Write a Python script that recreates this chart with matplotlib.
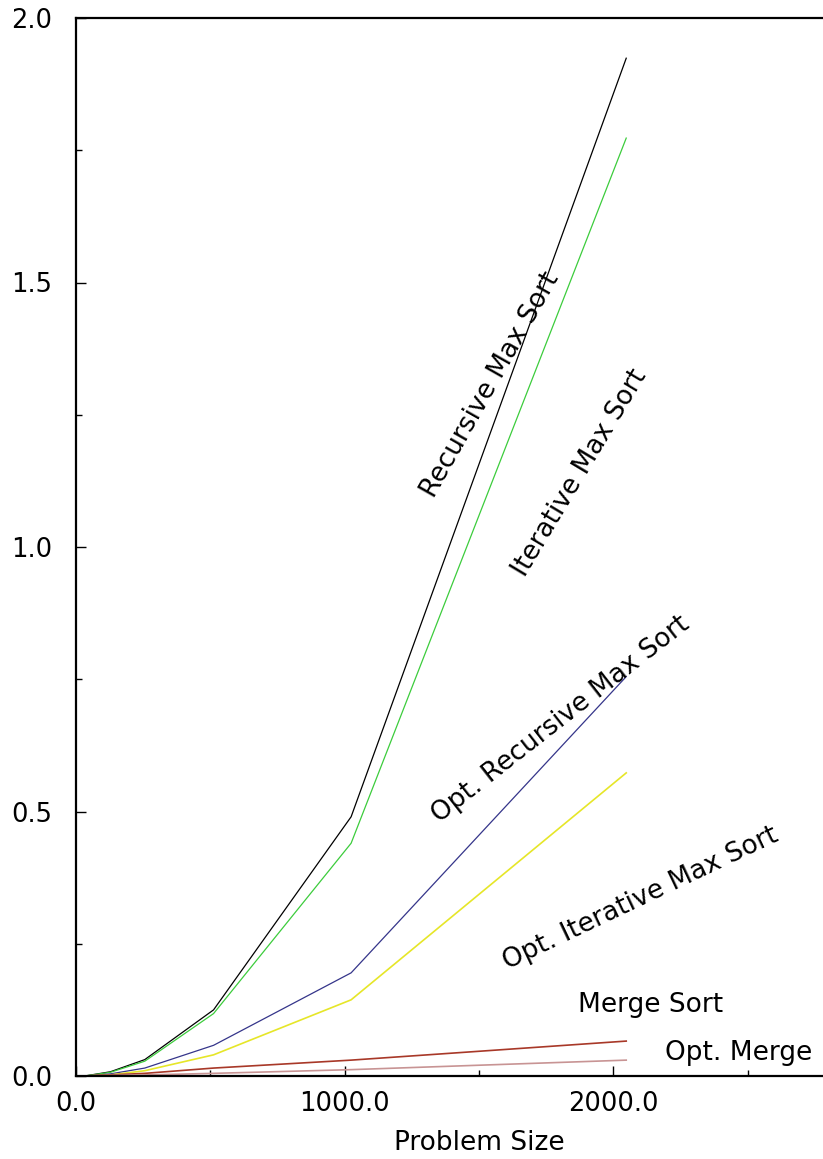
import matplotlib
matplotlib.use('Agg')
import matplotlib.pyplot as plt
from matplotlib.ticker import MultipleLocator, FormatStrFormatter

# problem sizes and run times
sizes = [32, 128, 256, 512, 1024, 2048]
recursive_max = [0.0, 0.008, 0.031, 0.125, 0.49, 1.924]
iterative_max = [0.0, 0.007, 0.028, 0.118, 0.44, 1.773]
opt_recursive_max = [0.0, 0.004, 0.015, 0.058, 0.195, 0.755]
opt_iterative_max = [0.0, 0.002, 0.010, 0.040, 0.144, 0.573]
merge_sort = [0.0, 0.002, 0.005, 0.015, 0.030, 0.066]
opt_merge = [0.0, 0.001, 0.002, 0.005, 0.012, 0.030]

x_major = [0, 1000, 2000]
x_minor = [500, 1500, 2500]

plt.rcParams['font.family'] = ['DejaVu Sans']

fig = plt.figure(figsize=(8.23, 11.59), dpi=100)
# axes runs past the right edge of the picture, like the cropped original
ax = fig.add_axes([76 / 823, 83 / 1159, 806 / 823, 1058 / 1159])

ax.plot(sizes, recursive_max, color='black', lw=0.9)
ax.plot(sizes, iterative_max, color='#3ccc3c', lw=0.9)
ax.plot(sizes, opt_recursive_max, color='#35358a', lw=0.9)
ax.plot(sizes, opt_iterative_max, color='#e6e628', lw=1.2)
ax.plot(sizes, merge_sort, color='#a83828', lw=1.2)
ax.plot(sizes, opt_merge, color='#c89494', lw=1.2)

# curve names written next to the curves
ax.text(1542, 1.306, 'Recursive Max Sort', rotation=60.5, fontsize=19,
        ha='center', va='center', rotation_mode='anchor')
ax.text(1877, 1.140, 'Iterative Max Sort', rotation=59, fontsize=19,
        ha='center', va='center', rotation_mode='anchor')
ax.text(1803, 0.673, 'Opt. Recursive Max Sort', rotation=38, fontsize=19,
        ha='center', va='center', rotation_mode='anchor')
ax.text(2100, 0.336, 'Opt. Iterative Max Sort', rotation=25.4, fontsize=19,
        ha='center', va='center', rotation_mode='anchor')
ax.text(2138, 0.134, 'Merge Sort', fontsize=19, ha='center', va='center')
ax.text(2466, 0.043, 'Opt. Merge', fontsize=19, ha='center', va='center')

ax.set_xlim(0, 3000)
ax.set_ylim(0, 2.0)
ax.set_xticks(x_major)
ax.set_xticks(x_minor, minor=True)
ax.yaxis.set_major_locator(MultipleLocator(0.5))
ax.yaxis.set_minor_locator(MultipleLocator(0.25))
ax.xaxis.set_major_formatter(FormatStrFormatter('%.1f'))
ax.yaxis.set_major_formatter(FormatStrFormatter('%.1f'))

ax.tick_params(which='both', direction='in', width=1.0, labelsize=18.5)
ax.tick_params(which='major', length=7.5)
ax.tick_params(which='minor', length=4)
ax.tick_params(axis='x', which='major', pad=11)
ax.tick_params(axis='y', which='major', pad=17)
for side in ['left', 'top', 'bottom', 'right']:
    ax.spines[side].set_linewidth(1.6)

ax.set_xlabel('Problem Size', fontsize=19, labelpad=9)

fig.savefig('out.png', dpi=100)
